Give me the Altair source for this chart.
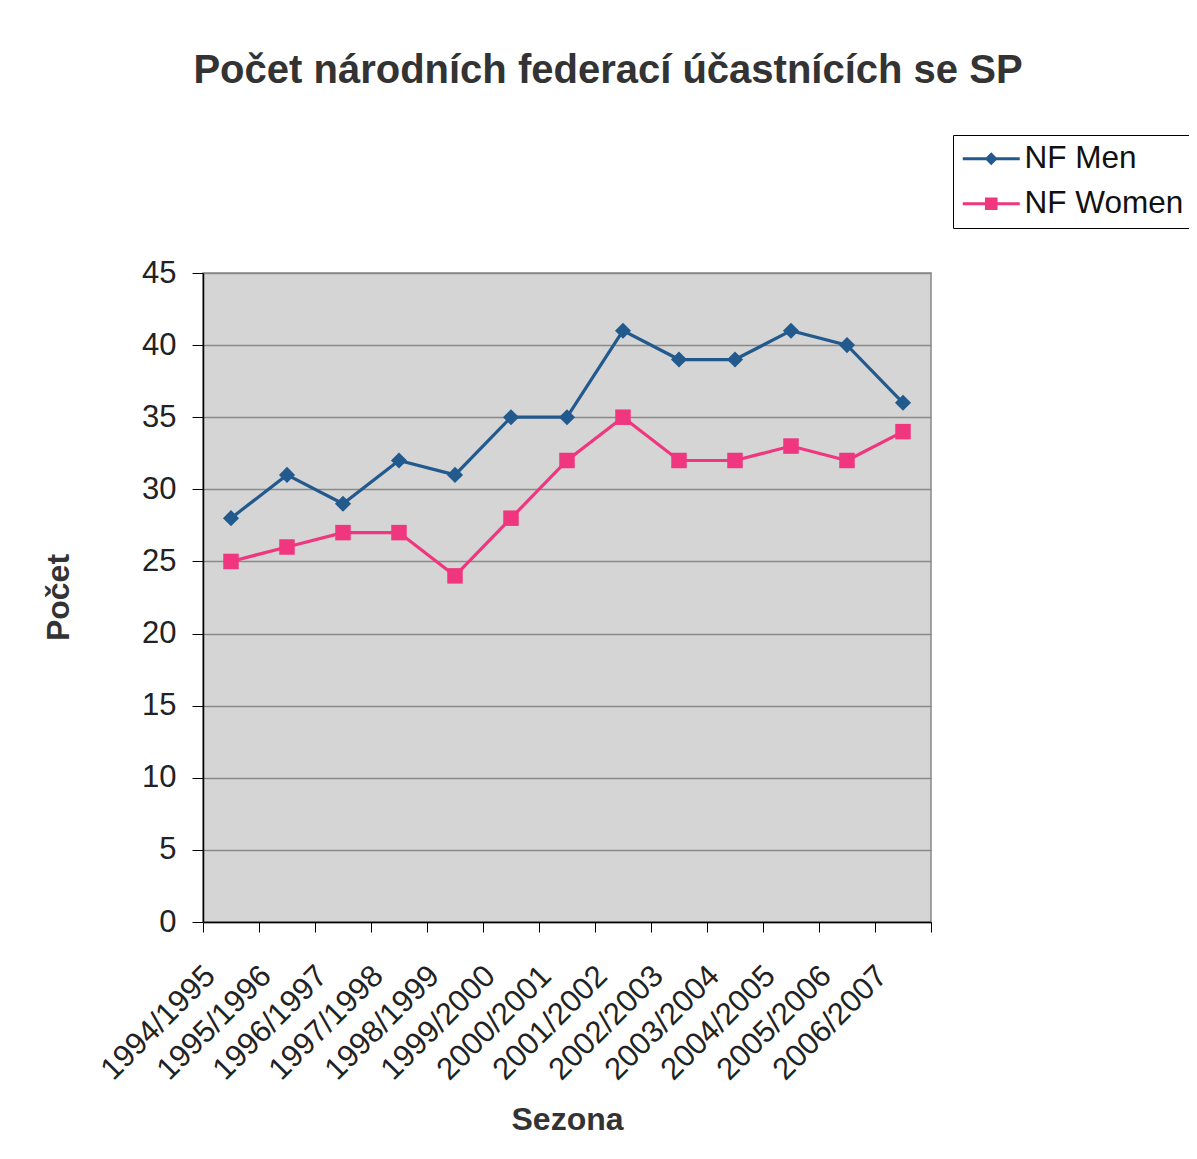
import altair as alt
import pandas as pd

seasons = ["1994/1995", "1995/1996", "1996/1997", "1997/1998", "1998/1999",
           "1999/2000", "2000/2001", "2001/2002", "2002/2003", "2003/2004",
           "2004/2005", "2005/2006", "2006/2007"]
men = [28, 31, 29, 32, 31, 35, 35, 41, 39, 39, 41, 40, 36]
women = [25, 26, 27, 27, 24, 28, 32, 35, 32, 32, 33, 32, 34]
series_names = ["NF Men", "NF Women"]
series_colors = ["#235A8E", "#F0367F"]
series_shapes = ["diamond", "square"]
y_ticks = [0, 5, 10, 15, 20, 25, 30, 35, 40, 45]

rows = []
for s, v in zip(seasons, men):
    rows.append({"Sezona": s, "Počet": v, "Série": series_names[0]})
for s, v in zip(seasons, women):
    rows.append({"Sezona": s, "Počet": v, "Série": series_names[1]})
df = pd.DataFrame(rows)

FONT = "Liberation Sans"

x_enc = alt.X("Sezona:N", sort=seasons, bandPosition=0.5,
              scale=alt.Scale(type="band", paddingInner=0, paddingOuter=0),
              axis=alt.Axis(title="Sezona", tickBand="extent", tickSize=10,
                            tickColor="#000", domainColor="#000", domainWidth=1.5,
                            labelAngle=315, labelAlign="right", labelBaseline="middle",
                            labelPadding=39, labelOffset=-21, labelFontSize=31,
                            labelColor="#222", labelFont=FONT,
                            titleFont=FONT, titleFontSize=32,
                            titleFontWeight="bold", titleColor="#333",
                            titleBaseline="alphabetic", titleY=207,
                            grid=False, labelOverlap=False))
y_enc = alt.Y("Počet:Q",
              scale=alt.Scale(domain=[0, 45], nice=False),
              axis=alt.Axis(title="Počet", values=y_ticks, tickSize=11,
                            tickColor="#000", domainColor="#000", domainWidth=1.5,
                            labelPadding=16, labelFontSize=31, labelColor="#222",
                            labelFont=FONT, titleFont=FONT, titleFontSize=32,
                            titleFontWeight="bold", titleColor="#333",
                            titleBaseline="alphabetic", titleX=-135, titleY=324,
                            grid=True, gridColor="#8a8a8a", gridWidth=1.5))

legend_props = dict(title=None, orient="none", legendX=750, legendY=-138,
                    fillColor="white", strokeColor="#000",
                    padding=8, rowPadding=12, symbolSize=400,
                    symbolOpacity=1, symbolStrokeWidth=0,
                    labelOffset=32, labelFontSize=31.5, labelFont=FONT,
                    labelColor="#111", labelLimit=400)

color_scale = alt.Scale(domain=series_names, range=series_colors)
no_legend_color = alt.Color("Série:N", scale=color_scale, legend=None)

# legend glyphs: line segment with the marker in the middle (custom symbol paths)
men_path = "M-1.4,-0.16H4.3V0.16H-1.4Z M0.8,0L1.45,-0.65L2.1,0L1.45,0.65Z"
women_path = "M-1.4,-0.16H4.3V0.16H-1.4Z M0.82,-0.63H2.08V0.63H0.82Z"

base = alt.Chart(df)
lines = base.mark_line(strokeWidth=3.2).encode(x=x_enc, y=y_enc, color=no_legend_color)
men_points = base.transform_filter(alt.datum["Série"] == series_names[0]).mark_point(
    filled=True, size=260, opacity=1, shape=series_shapes[0]).encode(
    x=x_enc, y=y_enc, color=no_legend_color)
women_points = base.transform_filter(alt.datum["Série"] == series_names[1]).mark_point(
    filled=True, size=240, opacity=1, shape=series_shapes[1]).encode(
    x=x_enc, y=y_enc, color=no_legend_color)
legend_layer = base.mark_point(filled=True, size=400, opacity=0).encode(
    x=x_enc, y=y_enc,
    color=alt.Color("Série:N", scale=color_scale, legend=alt.Legend(**legend_props)),
    shape=alt.Shape("Série:N", scale=alt.Scale(domain=series_names, range=[men_path, women_path]),
                    legend=alt.Legend(**legend_props)))

chart = alt.layer(lines, men_points, women_points, legend_layer).resolve_legend(
    color="independent", shape="independent").properties(
    width=728, height=649,
    autosize=alt.AutoSizeParams(type="none"),
    padding={"left": 195, "top": 265, "right": 258, "bottom": 229},
    title=alt.TitleParams("Počet národních federací účastnících se SP",
                          anchor="middle", frame="group", dx=41, offset=12,
                          baseline="alphabetic",
                          font=FONT, fontSize=40, fontWeight="bold", color="#333"),
).configure_view(fill="#D5D5D5", stroke="#888", strokeWidth=1.5)

chart.save("out.html", embed_options={"renderer": "svg", "actions": False})
